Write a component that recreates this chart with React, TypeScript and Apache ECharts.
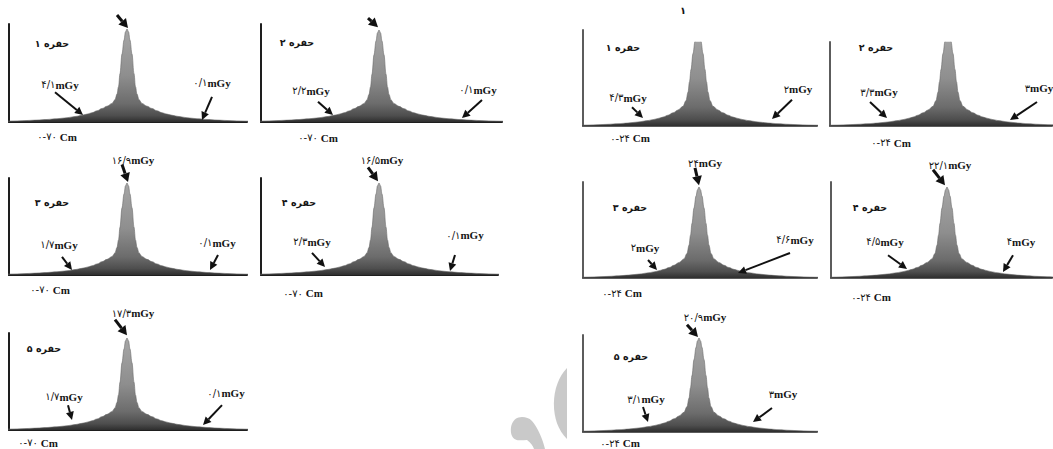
import React, { useEffect, useRef } from "react";
import * as echarts from "echarts";

// ---------- DATA ----------
// positions along the profile (units, peak at 0)
const profileX = [-13, -12, -11, -10, -9, -8, -7, -6, -5, -4.4, -4, -3.5, -3, -2.5, -2, -1.5, -1.2, -1, -0.85, -0.7, -0.5, -0.3, -0.15, 0, 0.15, 0.3, 0.5, 0.7, 0.85, 1, 1.2, 1.5, 2, 2.5, 3, 3.5, 4, 4.4, 5, 6, 7, 8, 9, 10, 11, 12, 13];
// relative dose (% of peak)
const dose70 = [0.7, 0.9, 1.2, 1.6, 2.1, 2.7, 3.5, 4.6, 6.2, 7.5, 8.5, 10, 12, 14.5, 17, 20, 24, 30, 38, 52, 73, 88, 97, 100, 97, 88, 73, 52, 38, 30, 24, 20, 17, 14.5, 12, 10, 8.5, 7.5, 6.2, 4.6, 3.5, 2.7, 2.1, 1.6, 1.2, 0.9, 0.7];
// relative dose (% of peak)
const dose24 = [0.6, 0.8, 1.0, 1.4, 1.8, 2.4, 3.2, 4.3, 5.8, 7, 8, 9.5, 11.5, 14, 17, 21, 27, 36, 47, 60, 77, 90, 97, 100, 97, 90, 77, 60, 47, 36, 27, 21, 17, 14, 11.5, 9.5, 8, 7, 5.8, 4.3, 3.2, 2.4, 1.8, 1.4, 1.0, 0.8, 0.6];

const panelProfile = ["70", "70", "24", "24", "70", "70", "24", "24", "70", "24"];
const cavityLabels = ["حفره ۱", "حفره ۲", "حفره ۱", "حفره ۲", "حفره ۳", "حفره ۴", "حفره ۳", "حفره ۴", "حفره ۵", "حفره ۵"];
const peakDoseLabels = ["", "", "", "", "۱۶/۹mGy", "۱۶/۵mGy", "۲۴mGy", "۲۲/۱mGy", "۱۷/۳mGy", "۲۰/۹mGy"];
const leftDoseLabels = ["۴/۱mGy", "۲/۲mGy", "۴/۳mGy", "۳/۳mGy", "۱/۷mGy", "۲/۳mGy", "۲mGy", "۴/۵mGy", "۱/۷mGy", "۳/۱mGy"];
const rightDoseLabels = ["۰/۱mGy", "۰/۱mGy", "۲mGy", "۳mGy", "۰/۱mGy", "۰/۱mGy", "۴/۶mGy", "۴mGy", "۰/۱mGy", "۳mGy"];
const rangeLabels = ["۰-۷۰ Cm", "۰-۷۰ Cm", "۰-۲۴ Cm", "۰-۲۴ Cm", "۰-۷۰ Cm", "۰-۷۰ Cm", "۰-۲۴ Cm", "۰-۲۴ Cm", "۰-۷۰ Cm", "۰-۲۴ Cm"];
const pageNote = "۱";

// ---------- LAYOUT ----------
const PX_PER_UNIT = 10;
const panelLayout = [
  { axisX: 9, gridTop: 24, base: 122, right: 247, peakX: 127, peakY: 29, dark: true },
  { axisX: 261, gridTop: 24, base: 122, right: 502, peakX: 379, peakY: 30, dark: true },
  { axisX: 583, gridTop: 42, base: 126, right: 817, peakX: 698, peakY: 32, dark: false },
  { axisX: 830, gridTop: 42, base: 126, right: 1052, peakX: 948, peakY: 32, dark: false },
  { axisX: 9, gridTop: 178, base: 275, right: 247, peakX: 127, peakY: 183, dark: true },
  { axisX: 261, gridTop: 178, base: 275, right: 498, peakX: 379, peakY: 183, dark: true },
  { axisX: 583, gridTop: 182, base: 278, right: 817, peakX: 699, peakY: 187, dark: false },
  { axisX: 831, gridTop: 182, base: 278, right: 1052, peakX: 947, peakY: 187, dark: false },
  { axisX: 9, gridTop: 333, base: 430, right: 247, peakX: 127, peakY: 338, dark: true },
  { axisX: 583, gridTop: 335, base: 432, right: 817, peakX: 699, peakY: 338, dark: false },
];

// annotation anchors in data units [x, % of peak]
const annLayout: any[] = [
  { cavity: [-7.5, 84], left: [-6.7, 40], leftArrow: [-7.2, 32, -4.4, 7.5], right: [8.5, 42], rightArrow: [8.5, 27, 7.5, 2.2], peak: null, peakArrow: [-1.0, 115, 0.1, 101], range: [-7.0, -16] },
  { cavity: [-8.2, 86], left: [-6.8, 34], leftArrow: [-6.1, 22, -4.6, 7.6], right: [9.9, 35], rightArrow: [10.3, 24, 8.3, 4.3], peak: null, peakArrow: [-1.1, 113, -0.1, 103], range: [-6.1, -17] },
  { cavity: [-7.5, 83], left: [-7.0, 30], leftArrow: [-6.6, 20, -5.5, 8.5], right: [10.0, 39], rightArrow: [9.4, 28, 7.4, 7.4], peak: null, peakArrow: null, range: [-6.8, -13], axisTop: 103, note: [-1.5, 123] },
  { cavity: [-7.2, 83], left: [-6.9, 36], leftArrow: [-7.8, 25.5, -6.1, 8.5], right: [9.1, 40], rightArrow: [8.9, 25.5, 6.2, 6.4], peak: null, peakArrow: null, range: [-5.7, -18] },
  { cavity: [-7.5, 79], left: [-6.8, 33], leftArrow: [-6.5, 19.6, -5.5, 5.4], right: [9.0, 35], rightArrow: [9.1, 21.7, 8.3, 5.4], peak: [0.6, 125], peakArrow: [-0.5, 120, 0.1, 101], range: [-7.7, -16] },
  { cavity: [-8.0, 79], left: [-6.7, 36], leftArrow: [-6.7, 24, -5.4, 8.7], right: [8.6, 43], rightArrow: [7.6, 21.7, 7.1, 4.3], peak: [0.3, 125], peakArrow: [-1.1, 117, -0.1, 102], range: [-7.6, -19.6] },
  { cavity: [-6.9, 78], left: [-5.4, 33], leftArrow: [-5.1, 19.8, -4.2, 8.8], right: [9.6, 42], rightArrow: [9.1, 27.5, 3.9, 5.5], peak: [0.6, 126], peakArrow: [-0.4, 121, 0, 102], range: [-7.7, -16.5] },
  { cavity: [-7.7, 78], left: [-6.2, 40], leftArrow: [-5.9, 25, -4.0, 10], right: [7.4, 40], rightArrow: [6.6, 25, 5.6, 6.6], peak: [0.3, 124], peakArrow: [-1.4, 119, -0.2, 102], range: [-7.6, -21] },
  { cavity: [-8.3, 89], left: [-6.3, 36], leftArrow: [-5.9, 27, -5.5, 11], right: [9.9, 40], rightArrow: [9.5, 27, 7.6, 5.4], peak: [0.6, 127], peakArrow: [-1.2, 120, 0, 103], range: [-8.9, -14] },
  { cavity: [-6.8, 80], left: [-5.3, 35], leftArrow: [-5.6, 26.6, -5.1, 10.6], right: [8.4, 40], rightArrow: [7.3, 25.5, 5.4, 10.6], peak: [0.6, 122], peakArrow: [-1.2, 114, -0.1, 101], range: [-7.9, -12] },
];

const FONT_LATIN = '"Liberation Serif", "DejaVu Serif", serif';
const FONT_AR = '"DejaVu Sans", "Noto Sans", sans-serif';

export default function App() {
  const ref = useRef<HTMLDivElement>(null);

  useEffect(() => {
    const el = ref.current;
    if (!el) return;
    const chart = echarts.init(el, null, { renderer: "svg" });

    echarts.graphic.registerShape(
      "wmCrescent",
      echarts.graphic.extendPath("M567 368 C550 385 549 422 567 439 Z", {})
    );
    echarts.graphic.registerShape(
      "wmComma",
      echarts.graphic.extendPath(
        "M522 417 C512 417 509 428 512 436 C515 442 522 440 527 440 C531 443 533 446 534 449 L545 449 C543 440 538 428 532 421 C529 418 526 417 522 417 Z",
        {}
      )
    );

    const grids: any[] = [];
    const xAxes: any[] = [];
    const yAxes: any[] = [];
    const series: any[] = [];
    const ranges: any[] = [];

    panelLayout.forEach((p, i) => {
      const sy = (p.base - p.peakY) / 100;
      const xmin = -(p.peakX - p.axisX) / PX_PER_UNIT;
      const xmax = (p.right - p.peakX) / PX_PER_UNIT;
      const ymax = (p.base - p.gridTop) / sy;
      ranges.push({ xmin, xmax, ymax });
      const axisColor = p.dark ? "#1e1e1e" : "#5c5c5c";
      grids.push({ left: p.axisX, top: p.gridTop, width: p.right - p.axisX, height: p.base - p.gridTop, containLabel: false });
      xAxes.push({
        type: "value", gridIndex: i, min: xmin, max: xmax,
        axisLine: { show: true, onZero: false, lineStyle: { color: axisColor, width: 2 } },
        axisTick: { show: false }, axisLabel: { show: false }, splitLine: { show: false },
      });
      yAxes.push({
        type: "value", gridIndex: i, min: 0, max: ymax,
        axisLine: { show: true, onZero: false, lineStyle: { color: axisColor, width: 2 } },
        axisTick: { show: false }, axisLabel: { show: false }, splitLine: { show: false },
      });
      const ys = panelProfile[i] === "70" ? dose70 : dose24;
      series.push({
        type: "line", xAxisIndex: i, yAxisIndex: i,
        data: profileX.map((x, k) => [x, ys[k]]),
        symbol: "none", showSymbol: false, smooth: 0.35, smoothMonotone: "x",
        lineStyle: { width: 0.6, color: "#6a6a6a" },
        areaStyle: {
          opacity: 1,
          color: new echarts.graphic.LinearGradient(0, 0, 0, 1, [
            { offset: 0, color: "#a6a6a6" },
            { offset: 0.5, color: "#8e8e8e" },
            { offset: 0.8, color: "#6c6c6c" },
            { offset: 0.93, color: "#4e4e4e" },
            { offset: 1, color: "#2e2e2e" },
          ]),
        },
        silent: true, clip: true, z: 2,
      });
    });

    chart.setOption({
      animation: false,
      backgroundColor: "#ffffff",
      grid: grids, xAxis: xAxes, yAxis: yAxes, series,
    });

    const g: any[] = [];
    g.push({ type: "wmCrescent", x: 0, y: 0, style: { fill: "#c9c9c9" }, z: 0, silent: true });
    g.push({ type: "wmComma", x: 0, y: 0, style: { fill: "#c9c9c9" }, z: 0, silent: true });

    const toPx = (i: number, x: number, y: number) =>
      chart.convertToPixel({ gridIndex: i } as any, [x, y]) as number[];

    const rich = {
      d: { fontFamily: FONT_AR, fontSize: 10, fontWeight: "normal", fill: "#151515", color: "#151515" },
      u: { fontFamily: FONT_LATIN, fontSize: 11, fontWeight: "bold", fill: "#151515", color: "#151515" },
    };

    // label with Persian digits (normal weight) followed by a Latin unit (bold serif)
    const addLabel = (i: number, pos: number[], text: string) => {
      const [px, py] = toPx(i, pos[0], pos[1]);
      const m = text.match(/^(.*?)(mGy| Cm)$/);
      const num = m ? m[1] : text;
      const unit = m ? m[2] : "";
      g.push({
        type: "text", x: px, y: py, z: 10, silent: true,
        style: {
          text: `{d|${num}}{u|${unit}}`, rich, fill: "#151515",
          align: "center", verticalAlign: "middle", textAlign: "center", textVerticalAlign: "middle",
        },
      });
    };

    const addPlain = (px: number, py: number, text: string, size: number, weight: any) => {
      g.push({
        type: "text", x: px, y: py, z: 10, silent: true,
        style: { text, fill: "#151515", fontSize: size, fontFamily: FONT_AR, fontWeight: weight, align: "center", verticalAlign: "middle", textAlign: "center", textVerticalAlign: "middle" },
      });
    };

    const addArrow = (i: number, a: number[], width: number, headL: number, headW: number) => {
      const [x1, y1] = toPx(i, a[0], a[1]);
      const [x2, y2] = toPx(i, a[2], a[3]);
      const dx = x2 - x1, dy = y2 - y1;
      const len = Math.hypot(dx, dy) || 1;
      const ux = dx / len, uy = dy / len;
      const bx = x2 - ux * headL, by = y2 - uy * headL;
      const nx = -uy, ny = ux;
      g.push({ type: "line", z: 11, silent: true, shape: { x1, y1, x2: bx, y2: by }, style: { stroke: "#111", lineWidth: width } });
      g.push({
        type: "polygon", z: 11, silent: true,
        shape: { points: [[x2, y2], [bx + nx * headW, by + ny * headW], [bx - nx * headW, by - ny * headW]] },
        style: { fill: "#111" },
      });
    };

    annLayout.forEach((a, i) => {
      const [cx, cy] = toPx(i, a.cavity[0], a.cavity[1]);
      addPlain(cx, cy, cavityLabels[i], 9.5, "bold");

      addLabel(i, a.left, leftDoseLabels[i]);
      addLabel(i, a.right, rightDoseLabels[i]);
      addLabel(i, a.range, rangeLabels[i]);
      if (a.peak && peakDoseLabels[i]) addLabel(i, a.peak, peakDoseLabels[i]);
      addArrow(i, a.leftArrow, 2, 8, 4);
      addArrow(i, a.rightArrow, 2, 8, 4);
      if (a.peakArrow) addArrow(i, a.peakArrow, 3, 9, 5);
      if (a.note) {
        const [nx, ny] = toPx(i, a.note[0], a.note[1]);
        addPlain(nx, ny, pageNote, 10, "bold");
      }
      if (a.axisTop) {
        const r = ranges[i];
        const [ax1, ay1] = toPx(i, r.xmin, r.ymax);
        const [, ay2] = toPx(i, r.xmin, a.axisTop);
        g.push({ type: "line", z: 5, silent: true, shape: { x1: ax1, y1: ay1, x2: ax1, y2: ay2 }, style: { stroke: "#5c5c5c", lineWidth: 2 } });
      }
    });

    chart.setOption({ graphic: { elements: g } });

    return () => {
      chart.dispose();
    };
  }, []);

  return (
    <div
      ref={ref}
      style={{ position: "absolute", left: 0, top: 0, width: 1053, height: 449, background: "#fff" }}
    />
  );
}
